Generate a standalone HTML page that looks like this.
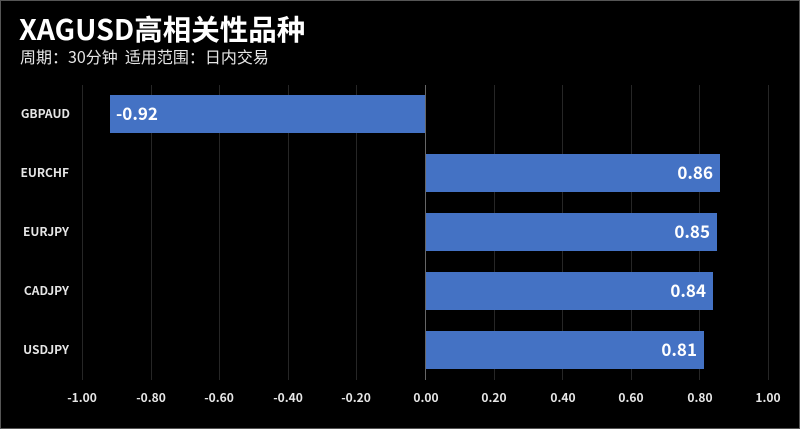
<!DOCTYPE html>
<html><head><meta charset="utf-8"><style>
html,body{margin:0;padding:0;background:#000;}
body{width:800px;height:429px;overflow:hidden;position:relative;}
text{font-family:"Noto Sans CJK SC","Liberation Sans",sans-serif;}
</style></head><body>
<svg width="800" height="429" xmlns="http://www.w3.org/2000/svg" style="position:absolute;left:0;top:0">
<rect x="0.5" y="0.5" width="799" height="428" fill="#000" stroke="#555"/>
<text x="19" y="40" fill="#fff" font-size="28.5" font-weight="bold">XAGUSD高相关性品种</text>
<text x="20" y="63" fill="#e6e6e6" font-size="16" xml:space="preserve">周期：30分钟  适用范围：日内交易</text>
<g stroke="#262626" stroke-width="1">
<line x1="82.5" y1="85" x2="82.5" y2="380"/>
<line x1="151.5" y1="85" x2="151.5" y2="380"/>
<line x1="219.5" y1="85" x2="219.5" y2="380"/>
<line x1="288.5" y1="85" x2="288.5" y2="380"/>
<line x1="356.5" y1="85" x2="356.5" y2="380"/>
<line x1="494.5" y1="85" x2="494.5" y2="380"/>
<line x1="562.5" y1="85" x2="562.5" y2="380"/>
<line x1="631.5" y1="85" x2="631.5" y2="380"/>
<line x1="699.5" y1="85" x2="699.5" y2="380"/>
<line x1="768.5" y1="85" x2="768.5" y2="380"/>
</g>
<g fill="#4472c4">
<rect x="110" y="95" width="316" height="38"/>
<rect x="426" y="154" width="294" height="38"/>
<rect x="426" y="213" width="291" height="38"/>
<rect x="426" y="272" width="287" height="38"/>
<rect x="426" y="331" width="278" height="38"/>
</g>
<line x1="425.5" y1="85" x2="425.5" y2="380" stroke="#666"/>
<g fill="#fff" font-size="17" font-weight="bold">
<text x="116" y="120">-0.92</text>
<text x="713" y="179" text-anchor="end">0.86</text>
<text x="710" y="238" text-anchor="end">0.85</text>
<text x="706" y="297" text-anchor="end">0.84</text>
<text x="697" y="356" text-anchor="end">0.81</text>
</g>
<g fill="#e6e6e6" font-size="12" font-weight="bold" text-anchor="end">
<text x="70" y="118">GBPAUD</text>
<text x="69" y="177">EURCHF</text>
<text x="69" y="236">EURJPY</text>
<text x="69" y="295">CADJPY</text>
<text x="69" y="354">USDJPY</text>
</g>
<g fill="#e6e6e6" font-size="12" font-weight="bold" text-anchor="middle">
<text x="82" y="402">-1.00</text>
<text x="151" y="402">-0.80</text>
<text x="219" y="402">-0.60</text>
<text x="288" y="402">-0.40</text>
<text x="356" y="402">-0.20</text>
<text x="426" y="402">0.00</text>
<text x="494" y="402">0.20</text>
<text x="563" y="402">0.40</text>
<text x="631" y="402">0.60</text>
<text x="700" y="402">0.80</text>
<text x="768" y="402">1.00</text>
</g>
</svg>
</body></html>
